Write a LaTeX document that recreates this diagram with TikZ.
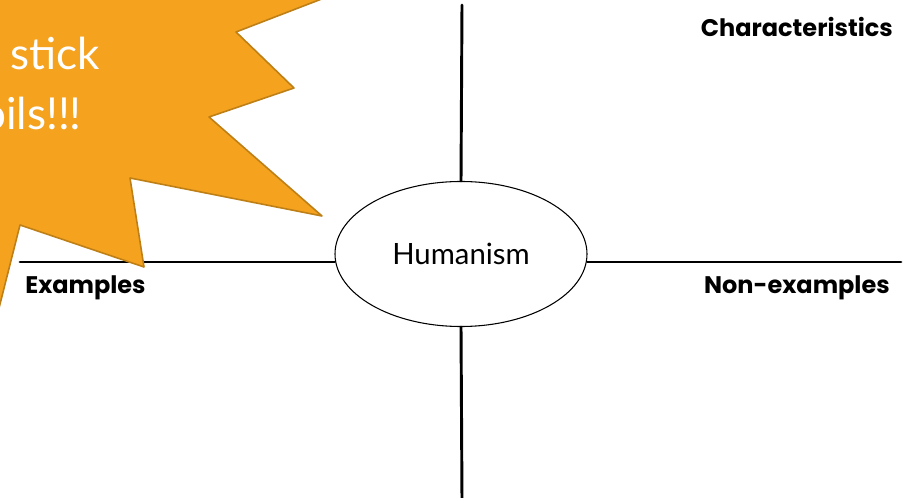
\documentclass[tikz,border=0pt]{standalone}
\usepackage{fontspec}
\setmainfont{Lato}
\newfontfamily\labelfont{Poppins}
\usetikzlibrary{shapes.geometric}
\definecolor{burst}{RGB}{245,162,30}
\definecolor{burstedge}{RGB}{190,128,22}

\begin{document}
\begin{tikzpicture}[x=0.75pt,y=-0.75pt,line cap=round,line join=round,
    axis/.style={line width=2.2pt},
    label/.style={font=\labelfont\bfseries\fontsize{18}{21}\selectfont,inner sep=0pt}]
  \useasboundingbox (0,0) rectangle (910,498);
  \clip (0,0) rectangle (910,498);
  \node[draw,ellipse,line width=0.8pt,minimum width=189pt,minimum height=108.75pt,
    font=\fontsize{22}{26}\selectfont] (hum) at (461,254) {Humanism};
  \coordinate (top) at (462,5);
  \coordinate (bottom) at (462,500);
  \coordinate (left) at (20,262);
  \coordinate (right) at (901,262);
  \draw[axis] (top) -- (hum.north);
  \draw[axis] (hum.south) -- (bottom);
  \draw[axis] (left) -- (left -| hum.west);
  \draw[axis] (hum.east |- right) -- (right);
  \node[label,anchor=east] (chars) at (893,27) {Characteristics};
  \node[label,anchor=west] (ex) at (25,288) {Examples};
  \node[label,anchor=east] (nonex) at (890,288) {Non-examples};
  % the starburst, cut by the page edge
  \draw[fill=burst,draw=burstedge,line width=1.2pt]
    (-60,-60) -- (345,-10) -- (236,32) -- (294,88) -- (209,117) -- (322,216)
    -- (130,178) -- (144,267) -- (20,225) -- (-4,320) -- (-60,320) -- cycle;
  \node[anchor=base west,text=white,inner sep=0pt,font=\fontsize{33}{40}\selectfont] (stick) at (10,70) {stick};
  \node[anchor=base west,text=white,inner sep=0pt,font=\fontsize{33}{40}\selectfont] (oils) at (-19,130) {oils!!!};
\end{tikzpicture}
\end{document}
